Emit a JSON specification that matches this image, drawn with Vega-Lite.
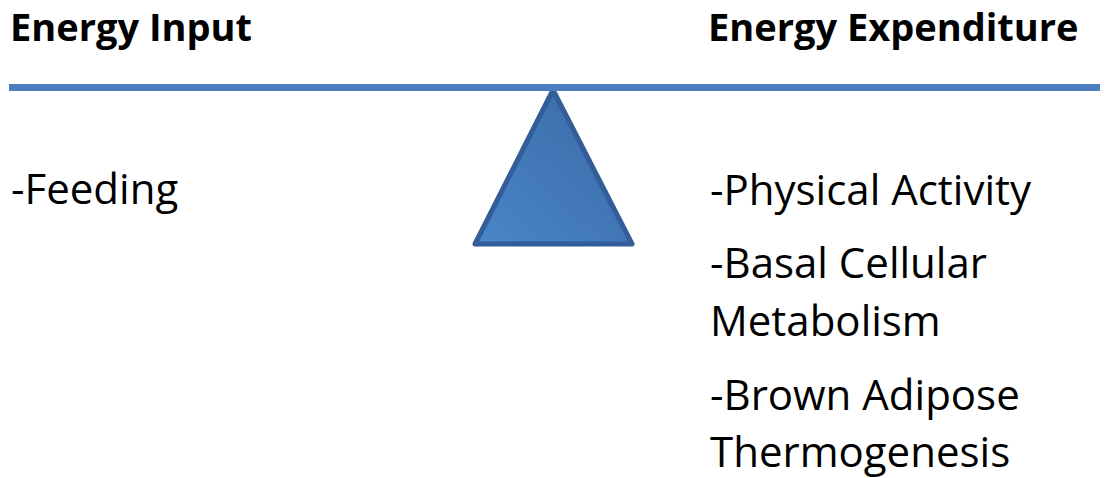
{
  "$schema": "https://vega.github.io/schema/vega-lite/v6.json",
  "width": 1105,
  "height": 478,
  "autosize": {"type": "fit", "contains": "padding"},
  "padding": 0,
  "background": "white",
  "config": {"view": {"stroke": null}},
  "datasets": {
    "beam": [{"x": 9, "x2": 1100, "y": 87.5}],
    "fulcrum": [
      {"x": 475, "top": 244, "base": 244},
      {"x": 553, "top": 90, "base": 244},
      {"x": 632, "top": 244, "base": 244}
    ],
    "labels": [
      {"x": 10, "y": 41, "text": "Energy Input", "kind": "heading"},
      {"x": 708, "y": 41, "text": "Energy Expenditure", "kind": "heading"},
      {"x": 11, "y": 204, "text": "-Feeding", "kind": "item"},
      {"x": 710, "y": 205, "text": "-Physical Activity", "kind": "item"},
      {"x": 710, "y": 278, "text": "-Basal Cellular", "kind": "item"},
      {"x": 710, "y": 336, "text": "Metabolism", "kind": "item"},
      {"x": 710, "y": 410, "text": "-Brown Adipose", "kind": "item"},
      {"x": 710, "y": 467, "text": "Thermogenesis", "kind": "item"}
    ]
  },
  "resolve": {"scale": {"x": "shared", "y": "shared"}},
  "layer": [
    {
      "data": {"name": "fulcrum"},
      "mark": {
        "type": "area",
        "interpolate": "linear",
        "stroke": "#335d97",
        "strokeWidth": 5,
        "strokeJoin": "round",
        "fill": {
          "gradient": "linear",
          "x1": 0, "y1": 1, "x2": 1, "y2": 0,
          "stops": [
            {"offset": 0, "color": "#4a86c9"},
            {"offset": 1, "color": "#3968a5"}
          ]
        },
        "fillOpacity": 1,
        "opacity": 1
      },
      "encoding": {
        "x": {"field": "x", "type": "quantitative", "scale": {"domain": [0, 1105], "nice": false, "zero": false}, "axis": null},
        "y": {"field": "top", "type": "quantitative", "scale": {"domain": [478, 0], "nice": false, "zero": false}, "axis": null},
        "y2": {"field": "base"}
      }
    },
    {
      "data": {"name": "beam"},
      "mark": {"type": "rule", "stroke": "#4a7ebe", "strokeWidth": 7},
      "encoding": {
        "x": {"field": "x", "type": "quantitative"},
        "x2": {"field": "x2"},
        "y": {"field": "y", "type": "quantitative"}
      }
    },
    {
      "data": {"name": "labels"},
      "transform": [{"filter": "datum.kind === 'heading'"}],
      "mark": {"type": "text", "align": "left", "baseline": "alphabetic", "font": "Open Sans", "fontWeight": "bold", "fontSize": 38, "fill": "#000000"},
      "encoding": {
        "x": {"field": "x", "type": "quantitative"},
        "y": {"field": "y", "type": "quantitative"},
        "text": {"field": "text"}
      }
    },
    {
      "data": {"name": "labels"},
      "transform": [{"filter": "datum.kind === 'item'"}],
      "mark": {"type": "text", "align": "left", "baseline": "alphabetic", "font": "Open Sans", "fontSize": 42, "fill": "#000000"},
      "encoding": {
        "x": {"field": "x", "type": "quantitative"},
        "y": {"field": "y", "type": "quantitative"},
        "text": {"field": "text"}
      }
    }
  ]
}
